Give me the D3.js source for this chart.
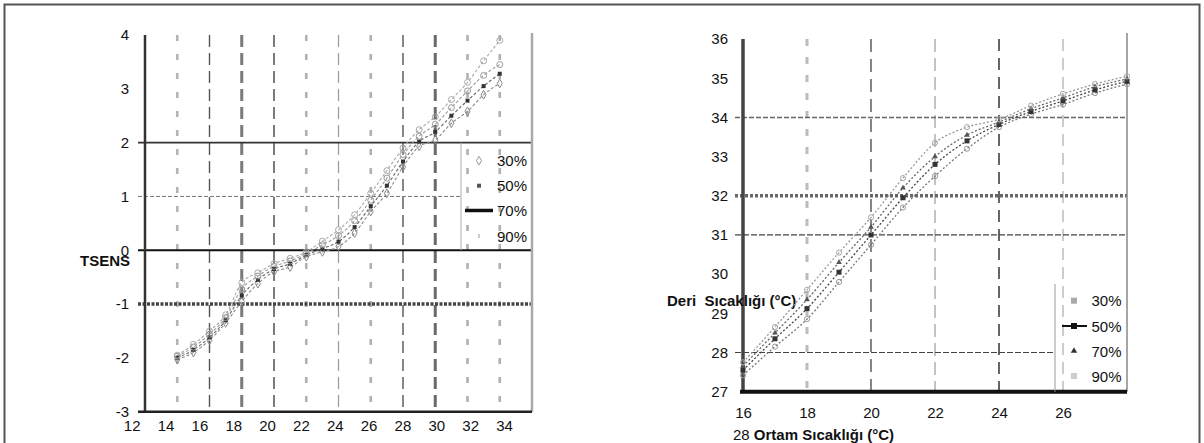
<!DOCTYPE html>
<html><head><meta charset="utf-8">
<script src="https://cdn.jsdelivr.net/npm/d3@7/dist/d3.min.js"></script>
<style>
body{margin:0;background:#fff}
svg{display:block}
text{font-family:"Liberation Sans",Arial,sans-serif;fill:#111}
</style>
</head><body>
<svg id="chart" width="1204" height="443"></svg>
<script>
// ---------- DATA ----------
const seriesNames = ["30%", "50%", "70%", "90%"];

// Left chart: TSENS vs ambient temperature
const tempLeft = [14,15,16,17,18,19,20,21,22,23,24,25,26,27,28,29,30,31,32,33,34];
const tsens30 = [-2.03,-1.90,-1.67,-1.35,-0.95,-0.62,-0.40,-0.31,-0.12,-0.03,0.07,0.32,0.72,1.06,1.55,1.93,2.05,2.36,2.58,2.89,3.10];
const tsens50 = [-2.00,-1.85,-1.62,-1.30,-0.84,-0.55,-0.35,-0.25,-0.09,0.03,0.16,0.43,0.82,1.20,1.65,2.02,2.20,2.50,2.78,3.05,3.28];
const tsens70 = [-1.97,-1.80,-1.56,-1.25,-0.72,-0.48,-0.30,-0.20,-0.06,0.10,0.27,0.55,0.93,1.34,1.78,2.12,2.34,2.65,2.96,3.25,3.45];
const tsens90 = [-1.95,-1.75,-1.50,-1.20,-0.60,-0.42,-0.25,-0.15,-0.03,0.17,0.38,0.66,1.06,1.48,1.90,2.24,2.48,2.80,3.12,3.52,3.90];
const leftYTicks = [-3,-2,-1,0,1,2,3,4];
const leftXTicks = [12,14,16,18,20,22,24,26,28,30,32,34];
const leftGridX = [14,16,18,20,22,24,26,28,30,32,34];
const leftGridY = [2,1,0,-1];

// Right chart: skin temperature vs ambient temperature
const tempRight = [16,17,18,19,20,21,22,23,24,25,26,27,28];
const skin30 = [27.42,28.15,28.85,29.80,30.75,31.70,32.50,33.20,33.75,34.08,34.33,34.62,34.85];
const skin50 = [27.55,28.35,29.12,30.05,31.00,31.95,32.80,33.40,33.82,34.15,34.42,34.70,34.92];
const skin70 = [27.65,28.50,29.35,30.30,31.20,32.20,33.00,33.55,33.88,34.22,34.50,34.78,34.98];
const skin90 = [27.75,28.65,29.60,30.55,31.45,32.45,33.35,33.75,33.95,34.30,34.60,34.85,35.05];
const rightYTicks = [27,28,29,30,31,32,33,34,35,36];
const rightXTicks = [16,18,20,22,24,26];
const rightGridX = [18,20,22,24,26];
const rightGridY = [34,32,31,28];

// ---------- DRAW ----------
const svg = d3.select("#chart");
const FONT = 15;
const plain = d => String(d);

// outer frame
svg.append("path").attr("d","M4.5,443 V4.5 H1199.5 V443")
  .attr("fill","none").attr("stroke","#555").attr("stroke-width",2);

// ===== LEFT CHART =====
const xL = d3.scaleLinear().domain([12,36]).range([145,532]);        // data / grid scale
const xLabL = d3.scaleLinear().domain([12,34]).range([131.7,504]);   // printed labels (offset in source)
const yL = d3.scaleLinear().domain([-3,4]).range([411.7,35]);
const gL = svg.append("g");

const vStyleL = {14:["#b4b4b4",2.6,"6,13"],16:["#555",1.4,"12,6"],18:["#7a7a7a",3,"12,6"],20:["#444",1.4,"12,6"],
  22:["#b0b0b0",2.6,"6,13"],24:["#9a9a9a",1.2,"12,6"],26:["#b0b0b0",2.6,"6,13"],28:["#555",1.4,"12,6"],
  30:["#6a6a6a",3,"12,6"],32:["#b0b0b0",2.6,"6,13"],34:["#b0b0b0",2.6,"6,13"]};
gL.selectAll("line.vg").data(leftGridX).join("line").attr("class","vg")
  .attr("x1",d=>xL(d)).attr("x2",d=>xL(d)).attr("y1",yL(4)).attr("y2",yL(-3))
  .attr("stroke",d=>vStyleL[d][0]).attr("stroke-width",d=>vStyleL[d][1]).attr("stroke-dasharray",d=>vStyleL[d][2]);

const hStyleL = {2:["#333",1.8,null,532],1:["#777",1,"4,2",461],0:["#111",1.8,null,532],"-1":["#444",3.5,"3,1.5",532]};
gL.selectAll("line.hg").data(leftGridY).join("line").attr("class","hg")
  .attr("x1",xL(12)-7).attr("x2",d=>hStyleL[d][3]).attr("y1",d=>yL(d)).attr("y2",d=>yL(d))
  .attr("stroke",d=>hStyleL[d][0]).attr("stroke-width",d=>hStyleL[d][1]).attr("stroke-dasharray",d=>hStyleL[d][2]);

// right edge & axes lines
gL.append("line").attr("x1",532).attr("x2",532).attr("y1",33).attr("y2",yL(-3)).attr("stroke","#aaa").attr("stroke-width",2.5);
gL.append("line").attr("x1",xL(12)).attr("x2",xL(12)).attr("y1",yL(4)).attr("y2",yL(-3)).attr("stroke","#333").attr("stroke-width",2.5);
gL.append("line").attr("x1",xL(12)-7).attr("x2",532).attr("y1",yL(-3)).attr("y2",yL(-3)).attr("stroke","#222").attr("stroke-width",2.5);

// axis labels
const axYL = gL.append("g").attr("transform",`translate(${xL(12)},0)`)
  .call(d3.axisLeft(yL).tickValues(leftYTicks).tickSize(0).tickPadding(16).tickFormat(plain));
axYL.select(".domain").remove();
axYL.selectAll("text").attr("font-size",FONT).attr("font-family","Liberation Sans, Arial");
const axXL = gL.append("g").attr("transform",`translate(0,${yL(-3)})`)
  .call(d3.axisBottom(xLabL).tickValues(leftXTicks).tickSize(0).tickPadding(8.5).tickFormat(plain));
axXL.select(".domain").remove();
axXL.selectAll("text").attr("font-size",FONT).attr("font-family","Liberation Sans, Arial");

gL.append("text").attr("x",130).attr("y",266).attr("text-anchor","end")
  .attr("font-size",FONT).attr("font-weight","bold").text("TSENS");

// series
const leftSeries = [tsens30,tsens50,tsens70,tsens90];
const lineL = d3.line().x((d,i)=>xL(tempLeft[i])).y(d=>yL(d)).curve(d3.curveMonotoneX);
leftSeries.forEach((s,k)=>{
  gL.append("path").attr("d",lineL(s)).attr("fill","none")
    .attr("stroke",["#8a8a8a","#666","#999","#aaa"][k]).attr("stroke-width",1.1).attr("stroke-dasharray","3,2");
});
// markers
gL.selectAll("path.m30").data(tsens30).join("path").attr("class","m30")
  .attr("d",d3.symbol(d3.symbolDiamond,22)).attr("transform",(d,i)=>`translate(${xL(tempLeft[i])},${yL(d)})`)
  .attr("fill","none").attr("stroke","#888").attr("stroke-width",1);
gL.selectAll("rect.m50").data(tsens50).join("rect").attr("class","m50")
  .attr("x",(d,i)=>xL(tempLeft[i])-2).attr("y",d=>yL(d)-2).attr("width",4).attr("height",4).attr("fill","#333");
gL.selectAll("circle.m70").data(tsens70).join("circle").attr("class","m70")
  .attr("cx",(d,i)=>xL(tempLeft[i])).attr("cy",d=>yL(d)).attr("r",3).attr("fill","none").attr("stroke","#999");
gL.selectAll("circle.m90").data(tsens90).join("circle").attr("class","m90")
  .attr("cx",(d,i)=>xL(tempLeft[i])).attr("cy",d=>yL(d)).attr("r",3).attr("fill","none").attr("stroke","#aaa");

// legend (left)
gL.append("line").attr("x1",461).attr("x2",461).attr("y1",yL(2)).attr("y2",yL(0)).attr("stroke","#aaa").attr("stroke-width",1);
const legYL = [160.7,185.7,210.5,236];
const lgL = gL.selectAll("g.lg").data(seriesNames).join("g").attr("class","lg")
  .attr("transform",(d,i)=>`translate(0,${legYL[i]})`);
lgL.append("text").attr("x",497).attr("y",5.5).attr("font-size",FONT).text(d=>d);
lgL.filter((d,i)=>i===0).append("path").attr("d",d3.symbol(d3.symbolDiamond,22)).attr("transform","translate(479,0)")
  .attr("fill","none").attr("stroke","#999");
lgL.filter((d,i)=>i===1).append("rect").attr("x",477).attr("y",-2).attr("width",4).attr("height",4).attr("fill","#555");
lgL.filter((d,i)=>i===2).append("line").attr("x1",465).attr("x2",493).attr("y1",0).attr("y2",0).attr("stroke","#111").attr("stroke-width",3.5);
lgL.filter((d,i)=>i===3).append("line").attr("x1",479).attr("x2",479).attr("y1",-2).attr("y2",2).attr("stroke","#aaa").attr("stroke-width",1.2);

// ===== RIGHT CHART =====
const xR = d3.scaleLinear().domain([16,28]).range([743,1127]);
const yR = d3.scaleLinear().domain([27,36]).range([391.7,39]);
const gR = svg.append("g");

const vStyleR = {18:["#bcbcbc",3,"7,11"],20:["#444",1.3,"13,7"],22:["#888",1,"13,6"],24:["#333",1.5,"12,7"],26:["#9a9a9a",1,"12,7"]};
gR.selectAll("line.vg").data(rightGridX).join("line").attr("class","vg")
  .attr("x1",d=>xR(d)).attr("x2",d=>xR(d)).attr("y1",yR(36)).attr("y2",yR(27))
  .attr("stroke",d=>vStyleR[d][0]).attr("stroke-width",d=>vStyleR[d][1]).attr("stroke-dasharray",d=>vStyleR[d][2]);

const hStyleR = {34:["#666",1.5,"5,2",1127],32:["#666",3.5,"3,2",1127],31:["#444",1.2,"6,2",1127],28:["#444",1.2,"6,2",1055]};
gR.selectAll("line.hg").data(rightGridY).join("line").attr("class","hg")
  .attr("x1",xR(16)-8).attr("x2",d=>hStyleR[d][3]).attr("y1",d=>yR(d)).attr("y2",d=>yR(d))
  .attr("stroke",d=>hStyleR[d][0]).attr("stroke-width",d=>hStyleR[d][1]).attr("stroke-dasharray",d=>hStyleR[d][2]);

gR.append("line").attr("x1",1127).attr("x2",1127).attr("y1",33).attr("y2",yR(27)).attr("stroke","#888").attr("stroke-width",1.5);
gR.append("line").attr("x1",xR(16)).attr("x2",xR(16)).attr("y1",yR(36)).attr("y2",yR(27)).attr("stroke","#444").attr("stroke-width",3.5);
gR.append("line").attr("x1",xR(16)-3).attr("x2",1127).attr("y1",yR(27)).attr("y2",yR(27)).attr("stroke","#111").attr("stroke-width",4);

const axYR = gR.append("g").attr("transform",`translate(${xR(16)},0)`)
  .call(d3.axisLeft(yR).tickValues(rightYTicks).tickSize(0).tickPadding(15).tickFormat(plain));
axYR.select(".domain").remove();
axYR.selectAll("text").attr("font-size",FONT).attr("font-family","Liberation Sans, Arial");
const axXR = gR.append("g").attr("transform",`translate(0,${yR(27)})`)
  .call(d3.axisBottom(xR).tickValues(rightXTicks).tickSize(0).tickPadding(16).tickFormat(plain));
axXR.select(".domain").remove();
axXR.selectAll("text").attr("font-size",FONT).attr("font-family","Liberation Sans, Arial");

gR.append("text").attr("x",667).attr("y",306).attr("font-size",FONT).attr("font-weight","bold")
  .attr("xml:space","preserve").style("white-space","pre").text("Deri  Sıcaklığı (°C)");
const tt = gR.append("text").attr("x",733).attr("y",440).attr("font-size",FONT);
tt.append("tspan").text("28 ");
tt.append("tspan").attr("font-weight","bold").text("Ortam Sıcaklığı (°C)");

const rightSeries = [skin30,skin50,skin70,skin90];
const lineR = d3.line().x((d,i)=>xR(tempRight[i])).y(d=>yR(d)).curve(d3.curveMonotoneX);
rightSeries.forEach((s,k)=>{
  gR.append("path").attr("d",lineR(s)).attr("fill","none")
    .attr("stroke",["#777","#444","#666","#999"][k]).attr("stroke-width",1.3).attr("stroke-dasharray","2,2");
});
gR.selectAll("circle.r30").data(skin30).join("circle").attr("class","r30")
  .attr("cx",(d,i)=>xR(tempRight[i])).attr("cy",d=>yR(d)).attr("r",2.6).attr("fill","none").attr("stroke","#999");
gR.selectAll("rect.r50").data(skin50).join("rect").attr("class","r50")
  .attr("x",(d,i)=>xR(tempRight[i])-2.5).attr("y",d=>yR(d)-2.5).attr("width",5).attr("height",5).attr("fill","#333");
gR.selectAll("path.r70").data(skin70).join("path").attr("class","r70")
  .attr("d",d3.symbol(d3.symbolTriangle,14)).attr("transform",(d,i)=>`translate(${xR(tempRight[i])},${yR(d)})`).attr("fill","#555");
gR.selectAll("circle.r90").data(skin90).join("circle").attr("class","r90")
  .attr("cx",(d,i)=>xR(tempRight[i])).attr("cy",d=>yR(d)).attr("r",2.6).attr("fill","none").attr("stroke","#aaa");

// legend (right)
gR.append("line").attr("x1",1055).attr("x2",1055).attr("y1",284).attr("y2",yR(27)).attr("stroke","#999").attr("stroke-width",1);
const legYR = [300.7,326,351,376];
const lgR = gR.selectAll("g.lg").data(seriesNames).join("g").attr("class","lg")
  .attr("transform",(d,i)=>`translate(0,${legYR[i]})`);
lgR.append("text").attr("x",1091.5).attr("y",5.5).attr("font-size",FONT).text(d=>d);
lgR.filter((d,i)=>i===0).append("rect").attr("x",1071).attr("y",-3).attr("width",6).attr("height",6).attr("fill","#aaa");
lgR.filter((d,i)=>i===1).append("line").attr("x1",1062).attr("x2",1087).attr("y1",0).attr("y2",0).attr("stroke","#111").attr("stroke-width",2);
lgR.filter((d,i)=>i===1).append("rect").attr("x",1071).attr("y",-3).attr("width",6).attr("height",6).attr("fill","#111");
lgR.filter((d,i)=>i===2).append("path").attr("d",d3.symbol(d3.symbolTriangle,18)).attr("transform","translate(1074,0)").attr("fill","#333");
lgR.filter((d,i)=>i===3).append("rect").attr("x",1071).attr("y",-3).attr("width",6).attr("height",6).attr("fill","#ccc");
</script>
</body></html>
